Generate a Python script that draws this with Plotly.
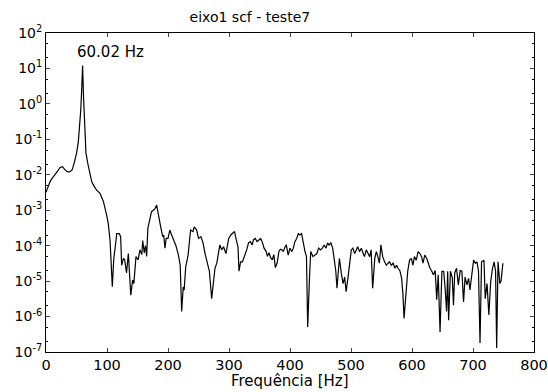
import plotly.graph_objects as go

freq = [0, 3, 6.5, 10, 15, 19, 23, 27, 31, 35, 39, 43, 46, 50, 53, 55, 57, 58.5, 60.02, 61.5,
        63, 65.5, 69, 72, 75, 79, 83, 88.5, 94, 99.5, 102, 105, 108.7, 111, 113, 116, 120, 122.4,
        124, 127, 129, 132, 135, 139, 142, 144, 147.5, 151, 154, 157, 158.5, 161, 163, 165, 167,
        170, 173, 176, 178.7, 181.4, 184, 188, 191.3, 193, 195, 197, 200, 203, 206, 209, 213, 217,
        220, 222.4, 225, 226.5, 229, 233, 237, 241, 243, 247, 250, 254, 257.5, 260.7, 263.5, 267.8,
        271.6, 274, 277, 280, 282.5, 285, 288, 291, 295, 299.5, 303, 306, 309, 312, 314.7, 316.4,
        319, 322, 326.7, 329, 332, 335, 338, 340, 343, 346, 349, 352, 355, 357.5, 361, 363, 365.5,
        368.5, 371, 373.5, 376, 379, 382, 384.5, 387, 389, 392, 394, 397, 400, 403, 405.5, 408, 411,
        413.6, 416, 419, 422, 424.6, 427, 429, 432, 434, 437.7, 441.5, 444, 447, 450, 453, 456, 459,
        461.6, 464, 467, 470, 472.5, 475, 477, 481, 484, 487, 489.6, 492, 495.6, 498, 500.5, 503,
        506, 508.7, 511, 514, 517, 520, 522, 525, 528, 530.6, 533, 535.5, 539, 541.5, 544, 546.5,
        549, 552, 555, 558, 560.7, 563, 566, 569, 572, 574.7, 577, 580, 583, 585, 587, 590, 593,
        596, 599, 601.5, 604, 607, 610, 613, 615.8, 618, 621, 624, 627, 629.5, 632, 635, 638, 640.5,
        643, 646, 649, 652, 654.5, 656.7, 658.5, 660, 663, 666, 668, 670, 673, 676, 679, 681.8,
        684.5, 687, 690, 692.8, 695, 698, 701, 704, 706.6, 709, 711.5, 714, 718, 720, 723, 726, 729,
        732, 734.6, 737, 738.8, 741, 744, 746, 749]

amplitude = [3.2e-3, 4.5e-3, 6.3e-3, 7.9e-3, 1.0e-2, 1.26e-2, 1.6e-2, 1.7e-2, 1.4e-2, 1.23e-2,
             1.2e-2, 1.4e-2, 2.1e-2, 4.0e-2, 8.5e-2, 0.2, 0.68, 2.5, 12, 1.6,
             0.25, 4.1e-2, 1.9e-2, 1.0e-2, 6.3e-3, 4.7e-3, 3.7e-3, 3.0e-3, 1.8e-3, 7.2e-4, 4.3e-4,
             1.4e-4, 6.9e-6, 4.0e-5, 9.3e-5, 2.2e-4, 2.2e-4, 1.8e-4,
             2.8e-5, 4.4e-5, 4.0e-5, 1.7e-5, 6.0e-5, 4.0e-6, 1.07e-5, 8.5e-6, 4.9e-5, 4.0e-5, 7.6e-5,
             5.6e-5, 1.4e-4, 6.3e-5, 1.0e-4, 5.0e-5, 3.1e-4,
             5.0e-4, 9.1e-4, 1.0e-3, 1.1e-3, 1.4e-3, 7.2e-4, 3.4e-4, 1.8e-4, 2.0e-4, 8.5e-5, 1.6e-4,
             1.6e-4, 2.75e-4, 2.0e-4, 1.45e-4, 1.0e-4, 5.5e-5,
             2.8e-5, 1.4e-6, 6.9e-6, 5.6e-6, 2.5e-5, 5.5e-5, 2.75e-4, 2.5e-4, 3.4e-4, 2.75e-4, 1.6e-4,
             1.8e-4, 1.2e-4, 6.0e-5, 3.5e-5, 1.9e-5,
             3.2e-6, 8.5e-6, 2.3e-5, 3.2e-5, 5.5e-5, 1.05e-4, 7.6e-5, 9.3e-5, 6.0e-5, 1.6e-4, 2.0e-4,
             2.2e-4, 2.5e-4, 1.45e-4, 9.3e-5, 1.9e-5,
             3.5e-5, 3.5e-5, 5.5e-5, 7.6e-5, 1.2e-4, 1.3e-4, 1.05e-4, 1.45e-4, 1.6e-4, 1.3e-4, 1.45e-4,
             1.6e-4, 1.2e-4, 8.5e-5, 6.8e-5, 5.0e-5, 6.3e-5,
             4.5e-5, 4.0e-5, 5.6e-5, 2.4e-5, 3.3e-5, 7.1e-5, 7.9e-5, 7.6e-5, 6.8e-5, 9.3e-5, 1.05e-4,
             5.4e-5, 8.5e-5, 6.8e-5, 8.5e-5, 1.3e-4, 1.6e-4,
             2.2e-4, 2.0e-4, 2.2e-4, 1.05e-4, 6.8e-5, 4.9e-5, 5.1e-7, 1.3e-5, 6.8e-5, 4.9e-5, 5.4e-5,
             6.0e-5, 8.5e-5, 7.6e-5, 8.5e-5, 1.05e-4, 8.5e-5,
             1.2e-4, 1.05e-4, 1.2e-4, 8.5e-5, 4.4e-5, 2.0e-5, 6.3e-6, 4.4e-5, 1.7e-5, 8.5e-6, 1.3e-5,
             5.0e-6, 1.5e-5, 3.5e-5, 7.6e-5, 8.5e-5,
             6.0e-5, 7.6e-5, 9.3e-5, 6.8e-5, 8.5e-5, 6.0e-5, 4.9e-5, 7.6e-5, 6.0e-5, 4.9e-5, 7.6e-5,
             6.3e-6, 4.4e-5, 6.8e-5, 4.9e-5, 3.2e-5,
             1.05e-4, 4.9e-5, 3.5e-5, 2.8e-5, 3.2e-5, 3.5e-5, 2.8e-5, 3.2e-5, 2.3e-5, 2.8e-5, 2.3e-5,
             2.0e-5, 1.2e-5, 4.5e-6, 8.9e-7, 4.5e-6, 1.9e-5,
             3.9e-5, 4.4e-5, 2.8e-5, 4.9e-5, 3.9e-5, 6.8e-5, 6.0e-5, 4.9e-5, 3.2e-5, 5.4e-5, 4.4e-5,
             2.8e-5, 2.3e-5, 2.0e-5, 1.5e-5, 2.0e-5, 3.0e-6,
             1.5e-5, 3.7e-7, 1.9e-5, 1.9e-5, 5.6e-6, 1.4e-6, 1.9e-5, 7.9e-7, 1.9e-5, 1.26e-5, 2.1e-6,
             1.7e-5, 2.3e-5, 7.8e-6, 2.0e-5, 1.9e-5,
             2.6e-6, 1.3e-5, 7.8e-6, 1.2e-5, 5.6e-6, 1.5e-5, 3.9e-5, 3.2e-5, 3.5e-5, 1.9e-5, 1.8e-7,
             3.5e-5, 3.9e-5, 3.2e-6, 8.5e-6, 1.1e-6, 9.5e-6,
             2.3e-5, 3.5e-5, 1.9e-5, 1.3e-7, 3.5e-5, 8.5e-6, 1.0e-5, 3.2e-5]

x_ticks = [0, 100, 200, 300, 400, 500, 600, 700, 800]
y_tickvals = [1e-7, 1e-6, 1e-5, 1e-4, 1e-3, 1e-2, 1e-1, 1e0, 1e1, 1e2]
y_ticktext = ["10<sup>-7</sup>", "10<sup>-6</sup>", "10<sup>-5</sup>", "10<sup>-4</sup>",
              "10<sup>-3</sup>", "10<sup>-2</sup>", "10<sup>-1</sup>", "10<sup>0</sup>",
              "10<sup>1</sup>", "10<sup>2</sup>"]

peak_label = "60.02 Hz"
peak_label_x = 105
peak_label_log_y = 1.46

font_family = "DejaVu Sans, Liberation Sans, Arial, sans-serif"

fig = go.Figure()
fig.add_trace(go.Scatter(x=freq, y=amplitude, mode="lines",
                         line=dict(color="black", width=1.2), showlegend=False))

fig.add_annotation(x=peak_label_x, y=peak_label_log_y, xref="x", yref="y", text=peak_label,
                   showarrow=False, font=dict(size=15, color="black", family=font_family),
                   xanchor="center", yanchor="middle")

fig.add_annotation(x=0.5, y=-0.091, xref="paper", yref="paper", text="Frequência [Hz]",
                   showarrow=False, font=dict(size=15, color="black", family=font_family),
                   xanchor="center", yanchor="middle")

fig.update_layout(
    width=548, height=392,
    margin=dict(l=46, r=14, t=33, b=40),
    paper_bgcolor="white", plot_bgcolor="white",
    font=dict(family=font_family, color="black", size=14),
    title=dict(text="eixo1 scf - teste7", x=0.456, xanchor="center", y=0.957, yanchor="middle",
               font=dict(size=14, family=font_family, color="black")),
)

fig.update_xaxes(range=[0, 800], tickvals=x_ticks, ticks="inside", ticklen=4,
                 showline=True, linecolor="black", linewidth=1, mirror="ticks",
                 showgrid=False, zeroline=False, automargin=False,
                 tickfont=dict(size=14.5, family=font_family))

fig.update_yaxes(type="log", range=[-7, 2], tickvals=y_tickvals, ticktext=y_ticktext,
                 ticks="inside", ticklen=4,
                 minor=dict(ticks="inside", ticklen=2, tickcolor="black", showgrid=False),
                 showline=True, linecolor="black", linewidth=1, mirror="ticks",
                 showgrid=False, zeroline=False, automargin=False,
                 tickfont=dict(size=14, family=font_family))

fig.write_html("out.html", config={"displayModeBar": False},
               post_script="document.body.style.margin='0';document.body.style.overflow='hidden';")
